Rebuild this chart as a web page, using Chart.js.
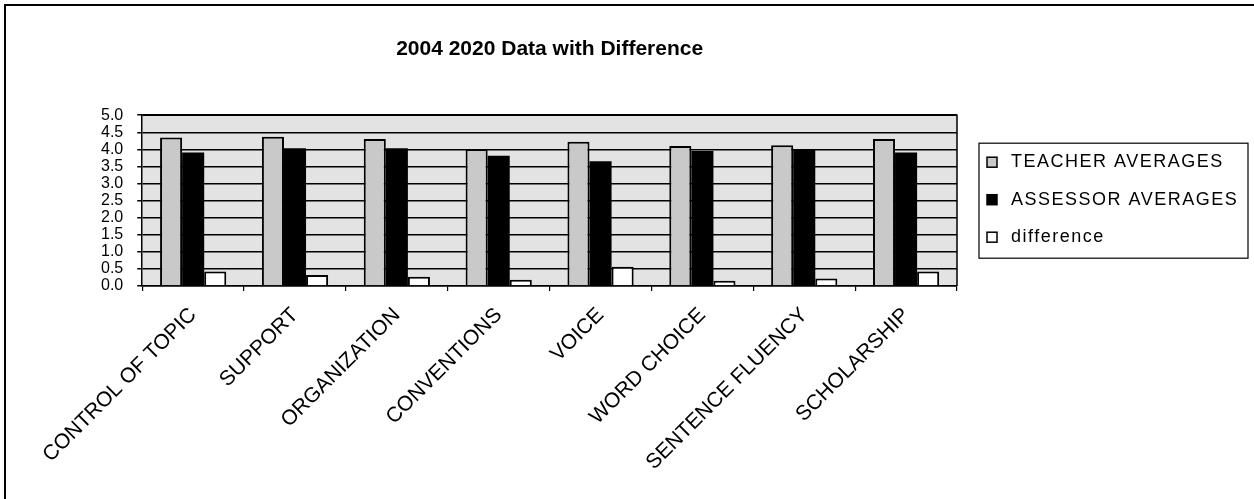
<!DOCTYPE html>
<html>
<head>
<meta charset="utf-8">
<script src="https://cdn.jsdelivr.net/npm/chart.js@4/dist/chart.umd.min.js"></script>
<style>
  html, body { margin: 0; padding: 0; background: #fff; }
  canvas { display: block; }
</style>
</head>
<body>
<canvas id="chart" width="1254" height="499"></canvas>
<script>
// Writing-trait averages, 2004 / 2020
const categories = ['CONTROL OF TOPIC', 'SUPPORT', 'ORGANIZATION', 'CONVENTIONS', 'VOICE', 'WORD CHOICE', 'SENTENCE FLUENCY', 'SCHOLARSHIP'];
const teacherAverages  = [4.35, 4.37, 4.30, 4.01, 4.22, 4.10, 4.12, 4.30];
const assessorAverages = [3.91, 4.03, 4.03, 3.81, 3.65, 3.95, 3.98, 3.91];
const differences      = [0.42, 0.32, 0.27, 0.18, 0.56, 0.15, 0.22, 0.42];
const seriesNames = ['TEACHER AVERAGES', 'ASSESSOR AVERAGES', 'difference'];
const yTickLabels = ['0.0', '0.5', '1.0', '1.5', '2.0', '2.5', '3.0', '3.5', '4.0', '4.5', '5.0'];
const chartTitle = '2004 2020 Data with Difference';

const FONT = '"Liberation Sans", Arial, Helvetica, sans-serif';
const PLOT_BG = '#e3e3e3';
const TEACHER_FILL = '#c9c9c9';

// Grey fill behind the plot area, drawn before the grid lines
const plotBackground = {
  id: 'plotBackground',
  beforeDraw(chart) {
    const { ctx, chartArea: a } = chart;
    ctx.save();
    ctx.fillStyle = PLOT_BG;
    ctx.fillRect(a.left, a.top, a.right - a.left, a.bottom - a.top);
    ctx.restore();
  }
};

// Plot-area border, outer frame and the boxed legend
const decorations = {
  id: 'decorations',
  afterDraw(chart) {
    const { ctx, chartArea: a } = chart;
    ctx.save();
    ctx.strokeStyle = '#000';
    ctx.lineWidth = 1.5;
    ctx.beginPath();
    ctx.moveTo(a.left, a.top);
    ctx.lineTo(a.right, a.top);
    ctx.lineTo(a.right, a.bottom);
    ctx.stroke();

    // outer frame (top and left edges)
    ctx.lineWidth = 2;
    ctx.beginPath();
    ctx.moveTo(5, chart.height);
    ctx.lineTo(5, 5);
    ctx.lineTo(chart.width, 5);
    ctx.stroke();

    // legend
    const lx = a.right + 22, ly = a.top + 28, lw = 269, lh = 115;
    ctx.lineWidth = 1.2;
    ctx.strokeRect(lx, ly, lw, lh);
    ctx.font = '18px ' + FONT;
    ctx.textBaseline = 'middle';
    ctx.fillStyle = '#000';
    chart.data.datasets.forEach((ds, i) => {
      const cy = ly + 19 + i * 37.5;
      const sx = lx + 8, s = 10;
      ctx.fillStyle = ds.backgroundColor;
      ctx.fillRect(sx, cy - s / 2, s, s);
      ctx.strokeStyle = '#000';
      ctx.lineWidth = 1.5;
      ctx.strokeRect(sx, cy - s / 2, s, s);
      ctx.fillStyle = '#000';
      if ('letterSpacing' in ctx) ctx.letterSpacing = '1.5px';
      ctx.fillText(ds.label, lx + 32, cy);
      if ('letterSpacing' in ctx) ctx.letterSpacing = '0px';
    });
    ctx.restore();
  }
};

new Chart(document.getElementById('chart'), {
  type: 'bar',
  data: {
    labels: categories,
    datasets: [
      { label: seriesNames[0], data: teacherAverages,  backgroundColor: TEACHER_FILL, borderColor: '#000', borderWidth: 2 },
      { label: seriesNames[1], data: assessorAverages, backgroundColor: '#000',       borderColor: '#000', borderWidth: 0 },
      { label: seriesNames[2], data: differences,      backgroundColor: '#fff',       borderColor: '#000', borderWidth: 2 }
    ]
  },
  options: {
    responsive: false,
    animation: false,
    events: [],
    datasets: { bar: { categoryPercentage: 0.65, barPercentage: 1.0 } },
    layout: { padding: { left: 87, right: 297, top: 0, bottom: 12 } },
    plugins: {
      legend: { display: false },
      tooltip: { enabled: false },
      title: {
        display: true,
        text: chartTitle,
        fullSize: false,
        color: '#000',
        font: { family: FONT, size: 21, weight: 'bold' },
        padding: { top: 37, bottom: 53 }
      }
    },
    scales: {
      x: {
        grid: { drawOnChartArea: false, drawTicks: true, tickLength: 5, color: '#000', lineWidth: 1.2, offset: true },
        border: { color: '#000', width: 1.5 },
        ticks: {
          color: '#000',
          font: { family: FONT, size: 21 },
          minRotation: 45,
          maxRotation: 45,
          autoSkip: false,
          padding: 12
        }
      },
      y: {
        min: 0,
        max: 5,
        grid: { color: '#000', lineWidth: 1.5, drawTicks: true, tickLength: 5 },
        border: { color: '#000', width: 1.5 },
        ticks: {
          stepSize: 0.5,
          autoSkip: false,
          color: '#000',
          padding: 14,
          font: { family: FONT, size: 16, lineHeight: 1.0 },
          callback: (v, i) => yTickLabels[i]
        }
      }
    }
  },
  plugins: [plotBackground, decorations]
});
</script>
</body>
</html>
